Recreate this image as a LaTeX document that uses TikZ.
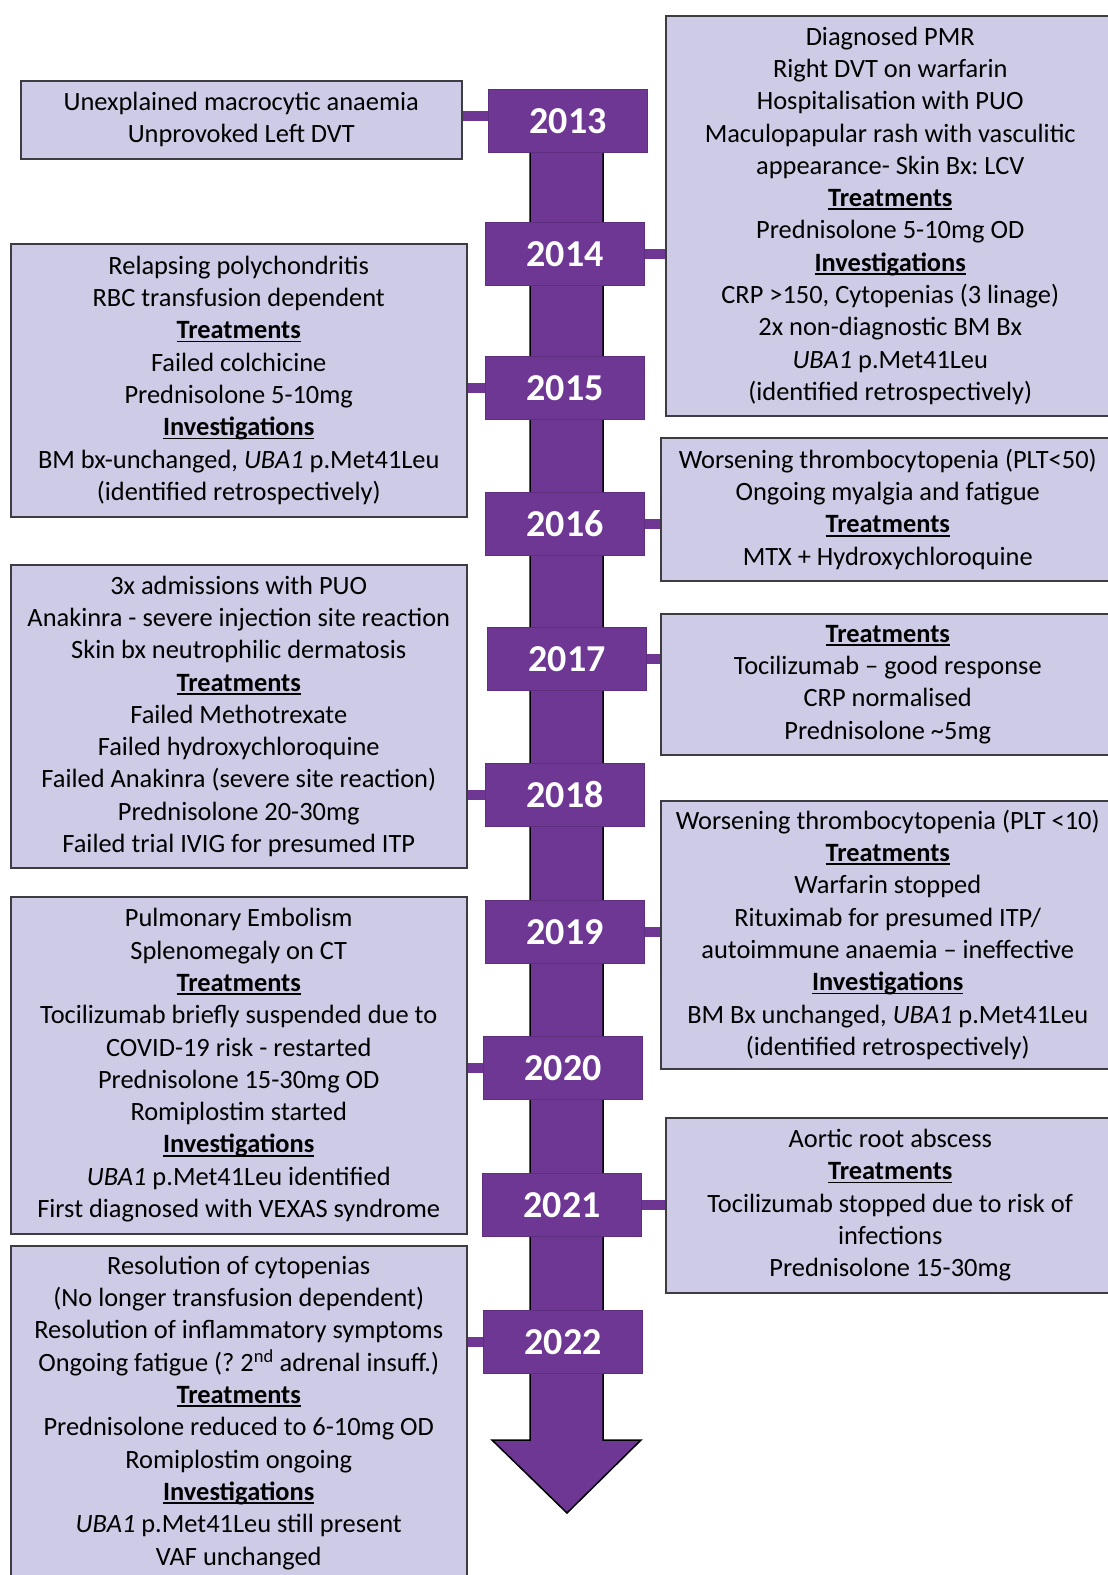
\documentclass[tikz,border=0pt]{standalone}
\usepackage{fontspec}
\setmainfont{Carlito}
\frenchspacing
\definecolor{vpurple}{RGB}{110,55,148}
\definecolor{boxfill}{RGB}{205,203,229}
\definecolor{boxline}{RGB}{60,60,66}
\newcommand\evfont{\fontsize{26.4}{32.3}\selectfont\frenchspacing}
\newcommand\yrfont{\fontsize{38}{40}\selectfont\bfseries}
\newcommand\hd[1]{\textbf{\setbox0\hbox{#1}\rlap{\rule[-3.6pt]{\wd0}{1.8pt}}\box0}}
\tikzset{
  evbox/.style={draw=boxline, fill=boxfill, line width=1.5pt, align=center, font=\evfont, inner sep=0pt, anchor=north west},
  yrbox/.style={fill=vpurple, draw=vpurple!85!black, line width=0.6pt, text=white, font=\yrfont, minimum width=159pt, minimum height=63pt, inner sep=0pt},
  conn/.style={draw=vpurple, line width=10pt},
  shaft/.style={fill=vpurple, draw=black, line width=1.5pt, line join=miter}
}
\begin{document}
\begin{tikzpicture}[x=1pt,y=-1pt]
\useasboundingbox (0,0) rectangle (1108,1575);
\fill[white] (0,0) rectangle (1108,1575);
% arrow
\draw[shaft] (530,125) -- (530,1440) -- (492,1440) -- (567,1513) -- (641,1440) -- (603,1440) -- (603,125) -- cycle;
% year boxes
\node[yrbox] (y13) at (568,121) {2013};
\node[yrbox] (y14) at (565,254) {2014};
\node[yrbox] (y15) at (565,388) {2015};
\node[yrbox] (y16) at (565,524) {2016};
\node[yrbox] (y17) at (567,659) {2017};
\node[yrbox] (y18) at (565,795) {2018};
\node[yrbox] (y19) at (565,932) {2019};
\node[yrbox] (y20) at (563,1068) {2020};
\node[yrbox] (y21) at (562,1205) {2021};
\node[yrbox] (y22) at (563,1342) {2022};
% event boxes
\node[evbox, minimum width=441pt, minimum height=78pt] (A) at (20,80)
  {Unexplained macrocytic anaemia\\Unprovoked Left DVT};
\node[evbox, minimum width=449pt, minimum height=400pt] (B) at (665,15)
  {Diagnosed PMR\\Right DVT on warfarin\\Hospitalisation with PUO\\Maculopapular rash with vasculitic\\appearance- Skin Bx: LCV\\\hd{Treatments}\\Prednisolone 5-10mg OD\\\hd{Investigations}\\CRP >150, Cytopenias (3 linage)\\2x non-diagnostic BM Bx\\\textit{UBA1} p.Met41Leu\\(identified retrospectively)};
\node[evbox, minimum width=456pt, minimum height=273pt] (C) at (10,243)
  {Relapsing polychondritis\\RBC transfusion dependent\\\hd{Treatments}\\Failed colchicine\\Prednisolone 5-10mg\\\hd{Investigations}\\BM bx-unchanged, \textit{UBA1} p.Met41Leu\\(identified retrospectively)};
\node[evbox, minimum width=454pt, minimum height=143pt] (D) at (660,437)
  {Worsening thrombocytopenia (PLT<50)\\Ongoing myalgia and fatigue\\\hd{Treatments}\\MTX + Hydroxychloroquine};
\node[evbox, minimum width=456pt, minimum height=303pt] (E) at (10,564)
  {3x admissions with PUO\\Anakinra - severe injection site reaction\\Skin bx neutrophilic dermatosis\\\hd{Treatments}\\Failed Methotrexate\\Failed hydroxychloroquine\\Failed Anakinra (severe site reaction)\\Prednisolone 20-30mg\\Failed trial IVIG for presumed ITP};
\node[evbox, minimum width=454pt, minimum height=141pt] (F) at (660,613)
  {\hd{Treatments}\\Tocilizumab – good response\\CRP normalised\\Prednisolone \textasciitilde5mg};
\node[evbox, minimum width=456pt, minimum height=337pt] (G) at (10,896)
  {Pulmonary Embolism\\Splenomegaly on CT\\\hd{Treatments}\\Tocilizumab briefly suspended due to\\COVID-19 risk - restarted\\Prednisolone 15-30mg OD\\Romiplostim started\\\hd{Investigations}\\\textit{UBA1} p.Met41Leu identified\\First diagnosed with VEXAS syndrome};
\node[evbox, minimum width=454pt, minimum height=268pt] (H) at (660,800)
  {Worsening thrombocytopenia (PLT <10)\\\hd{Treatments}\\Warfarin stopped\\Rituximab for presumed ITP/\\autoimmune anaemia – ineffective\\\hd{Investigations}\\BM Bx unchanged, \textit{UBA1} p.Met41Leu\\(identified retrospectively)};
\node[evbox, minimum width=449pt, minimum height=175pt] (J) at (665,1117)
  {Aortic root abscess\\\hd{Treatments}\\Tocilizumab stopped due to risk of\\infections\\Prednisolone 15-30mg};
\node[evbox, minimum width=456pt, minimum height=334pt] (I) at (10,1245)
  {Resolution of cytopenias\\(No longer transfusion dependent)\\Resolution of inflammatory symptoms\\Ongoing fatigue (? 2\textsuperscript{nd} adrenal insuff.)\\\hd{Treatments}\\Prednisolone reduced to 6-10mg OD\\Romiplostim ongoing\\\hd{Investigations}\\\textit{UBA1} p.Met41Leu still present\\VAF unchanged};
% connectors
\draw[conn] ([yshift=5pt]y13.west) -- ([yshift=5pt]y13.west -| A.east);
\draw[conn] (y14.east) -- (y14.east -| B.west);
\draw[conn] (y15.west) -- (y15.west -| C.east);
\draw[conn] (y16.east) -- (y16.east -| D.west);
\draw[conn] (y17.east) -- (y17.east -| F.west);
\draw[conn] (y18.west) -- (y18.west -| E.east);
\draw[conn] (y19.east) -- (y19.east -| H.west);
\draw[conn] (y20.west) -- (y20.west -| G.east);
\draw[conn] (y21.east) -- (y21.east -| J.west);
\draw[conn] (y22.west) -- (y22.west -| I.east);
\end{tikzpicture}
\end{document}
